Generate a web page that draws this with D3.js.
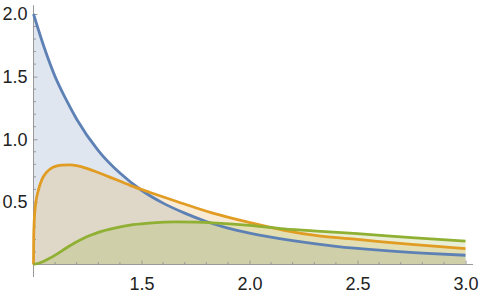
<!DOCTYPE html>
<meta charset="utf-8">
<script src="https://d3js.org/d3.v7.min.js"></script>
<style>
  body { margin: 0; background: #fff; }
  text { font-family: "Liberation Sans", Arial, sans-serif; }
</style>
<svg id="chart" width="482" height="297"></svg>
<script>

// Data
var blueX  = [1, 1.05, 1.1, 1.15, 1.2, 1.3, 1.4, 1.5, 1.6, 1.7, 1.8, 1.9, 2.0, 2.2, 2.4, 2.6, 2.8, 3.0];
var blueY  = [2.0, 1.73, 1.50, 1.32, 1.16, 0.91, 0.73, 0.593, 0.49, 0.41, 0.343, 0.29, 0.25, 0.19, 0.145, 0.114, 0.091, 0.074];

var orangeX = [1, 1.001, 1.003, 1.006, 1.012, 1.022, 1.038, 1.06, 1.09, 1.13, 1.17, 1.2, 1.26, 1.35, 1.45, 1.54, 1.66, 1.83, 2.0, 2.16, 2.33, 2.5, 2.75, 3.0];
var orangeY = [0, 0.22, 0.33, 0.42, 0.51, 0.59, 0.675, 0.735, 0.777, 0.794, 0.796, 0.79, 0.76, 0.70, 0.63, 0.575, 0.505, 0.41, 0.335, 0.273, 0.226, 0.20, 0.16, 0.127];

var greenX = [1, 1.04, 1.07, 1.11, 1.15, 1.19, 1.23, 1.27, 1.3, 1.38, 1.46, 1.55, 1.66, 1.75, 1.85, 2.0, 2.16, 2.33, 2.5, 2.75, 3.0];
var greenY = [0, 0.02, 0.045, 0.085, 0.13, 0.172, 0.208, 0.238, 0.257, 0.293, 0.318, 0.333, 0.34, 0.338, 0.33, 0.312, 0.285, 0.265, 0.246, 0.215, 0.186];

var xTicks = [1.5, 2.0, 2.5, 3.0];
var yTicks = [0.5, 1.0, 1.5, 2.0];

var svg = d3.select("#chart");

var x = d3.scaleLinear().domain([1, 3]).range([33.5, 465.5]);
var y = d3.scaleLinear().domain([0, 2]).range([264.5, 14]);

var series = [
  { xs: blueX,   ys: blueY,   color: "#5e81b5" },
  { xs: orangeX, ys: orangeY, color: "#e19c24" },
  { xs: greenX,  ys: greenY,  color: "#8fb032" }
];

var area = d3.area()
    .x(function(d){ return x(d[0]) })
    .y0(y(0))
    .y1(function(d){ return y(d[1]) })
    .curve(d3.curveMonotoneX);

var line = d3.line()
    .x(function(d){ return x(d[0]) })
    .y(function(d){ return y(d[1]) })
    .curve(d3.curveMonotoneX);

// fillings
series.forEach(function(s){
  var pts = s.xs.map(function(v, i){ return [v, s.ys[i]] });
  svg.append("path")
    .attr("d", area(pts))
    .attr("fill", s.color)
    .attr("fill-opacity", 0.2);
});

// axes
var axisColor = "#999";
svg.append("line")
  .attr("x1", x(1) - 0.5).attr("x2", x(3.035))
  .attr("y1", y(0)).attr("y2", y(0))
  .attr("stroke", axisColor).attr("stroke-width", 1);
svg.append("line")
  .attr("x1", x(1)).attr("x2", x(1))
  .attr("y1", y(2.07)).attr("y2", y(-0.1))
  .attr("stroke", axisColor).attr("stroke-width", 1);

// minor ticks
var xMinor = d3.range(1.1, 3.01, 0.1).filter(function(v){ return Math.abs(v*2 - Math.round(v*2)) > 0.01 });
var yMinor = d3.range(0.1, 2.01, 0.1).filter(function(v){ return Math.abs(v*2 - Math.round(v*2)) > 0.01 });

svg.append("g").selectAll("line").data(xMinor).enter().append("line")
  .attr("x1", function(d){ return x(d) }).attr("x2", function(d){ return x(d) })
  .attr("y1", y(0)).attr("y2", y(0) - 2.5)
  .attr("stroke", axisColor);
svg.append("g").selectAll("line").data(yMinor).enter().append("line")
  .attr("y1", function(d){ return y(d) }).attr("y2", function(d){ return y(d) })
  .attr("x1", x(1)).attr("x2", x(1) + 2.5)
  .attr("stroke", axisColor);

// major ticks + labels
var gx = svg.append("g")
  .attr("transform", "translate(0," + y(0) + ")")
  .call(d3.axisBottom(x).tickValues(xTicks).tickFormat(d3.format(".1f"))
        .tickSizeInner(-4).tickSizeOuter(0).tickPadding(13));
var gy = svg.append("g")
  .attr("transform", "translate(" + x(1) + ",0)")
  .call(d3.axisLeft(y).tickValues(yTicks).tickFormat(d3.format(".1f"))
        .tickSizeInner(-4).tickSizeOuter(0).tickPadding(6));

[gx, gy].forEach(function(g){
  g.select(".domain").remove();
  g.selectAll(".tick line").attr("stroke", axisColor);
  g.selectAll(".tick text")
    .attr("fill", "#222")
    .style("font-size", "18px")
    .style("font-family", "'Liberation Sans', Arial, sans-serif");
});

// curves
series.forEach(function(s){
  var pts = s.xs.map(function(v, i){ return [v, s.ys[i]] });
  svg.append("path")
    .attr("d", line(pts))
    .attr("fill", "none")
    .attr("stroke", s.color)
    .attr("stroke-width", 2.8)
    .attr("stroke-linejoin", "round");
});

</script>
